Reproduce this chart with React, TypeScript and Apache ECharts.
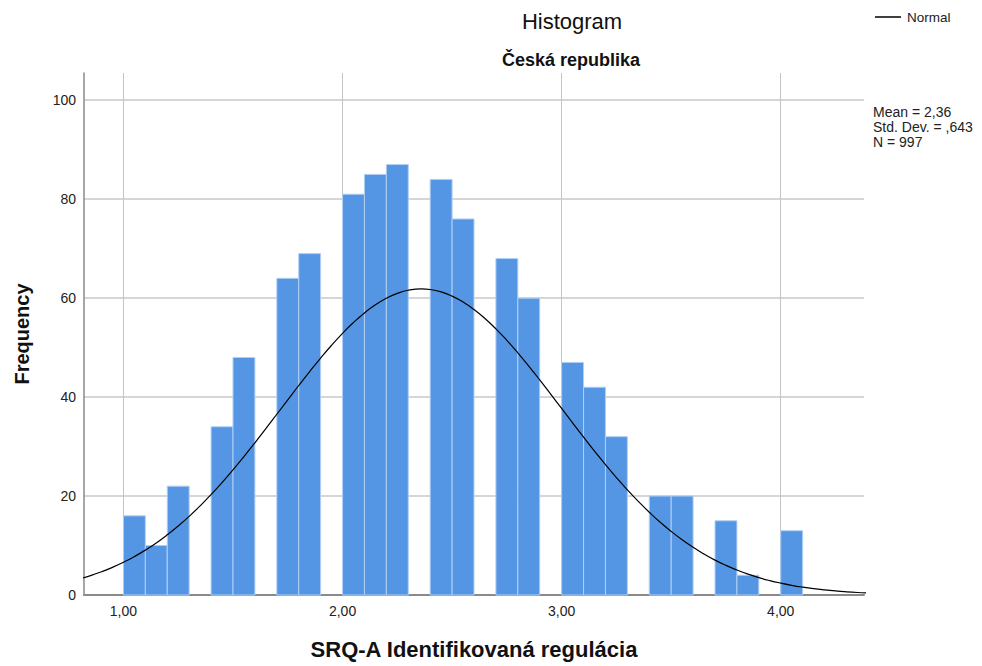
import React, { useEffect, useRef } from "react";
import * as echarts from "echarts";

// Histogram bins (lower edge, upper edge) and frequencies
const binStarts = [1.0, 1.1, 1.2, 1.3, 1.4, 1.5, 1.6, 1.7, 1.8, 1.9, 2.0, 2.1, 2.2, 2.3, 2.4, 2.5, 2.6, 2.7, 2.8, 2.9, 3.0, 3.1, 3.2, 3.3, 3.4, 3.5, 3.6, 3.7, 3.8, 3.9, 4.0];
const binEnds = [1.1, 1.2, 1.3, 1.4, 1.5, 1.6, 1.7, 1.8, 1.9, 2.0, 2.1, 2.2, 2.3, 2.4, 2.5, 2.6, 2.7, 2.8, 2.9, 3.0, 3.1, 3.2, 3.3, 3.4, 3.5, 3.6, 3.7, 3.8, 3.9, 4.0, 4.1];
const counts = [16, 10, 22, 0, 34, 48, 0, 64, 69, 0, 81, 85, 87, 0, 84, 76, 0, 68, 60, 0, 47, 42, 32, 0, 20, 20, 0, 15, 4, 0, 13];

// Normal curve points (Mean 2,36, SD ,643, N 997)
const curveX = [
  0.8, 0.85, 0.9, 0.95, 1.0, 1.05, 1.1, 1.15, 1.2, 1.25, 1.3, 1.35, 1.4, 1.45, 1.5, 1.55, 1.6, 1.65, 1.7, 1.75,
  1.8, 1.85, 1.9, 1.95, 2.0, 2.05, 2.1, 2.15, 2.2, 2.25, 2.3, 2.36, 2.4, 2.45, 2.5, 2.55, 2.6, 2.65, 2.7, 2.75,
  2.8, 2.85, 2.9, 2.95, 3.0, 3.05, 3.1, 3.15, 3.2, 3.25, 3.3, 3.35, 3.4, 3.45, 3.5, 3.55, 3.6, 3.65, 3.7, 3.75,
  3.8, 3.85, 3.9, 3.95, 4.0, 4.05, 4.1, 4.15, 4.2, 4.25, 4.3, 4.35, 4.4,
];
const curveY = [
  3.26, 3.92, 4.7, 5.59, 6.61, 7.77, 9.07, 10.53, 12.16, 13.94, 15.9, 18.01, 20.3, 22.73, 25.3, 27.98, 30.76, 33.63, 36.53, 39.44,
  42.34, 45.16, 47.89, 50.48, 52.88, 55.07, 57.0, 58.65, 59.97, 60.96, 61.59, 61.86, 61.74, 61.26, 60.41, 59.22, 57.7, 55.88, 53.79, 51.47,
  48.95, 46.27, 43.48, 40.6, 37.7, 34.78, 31.9, 29.08, 26.35, 23.74, 21.25, 18.91, 16.73, 14.7, 12.85, 11.16, 9.63, 8.27, 7.05, 5.98,
  5.04, 4.22, 3.51, 2.91, 2.4, 1.96, 1.59, 1.28, 1.03, 0.82, 0.65, 0.51, 0.4,
];

const xTicks = [1, 2, 3, 4];
const yTicks = [0, 20, 40, 60, 80, 100];
const statsLines = ["Mean = 2,36", "Std. Dev. = ,643", "N = 997"];

const FONT = "'Liberation Sans', Arial, sans-serif";

export default function App() {
  const ref = useRef<HTMLDivElement>(null);
  useEffect(() => {
    if (!ref.current) return;
    const chart = echarts.init(ref.current, undefined, { renderer: "svg" });
    const barData = binStarts.map((s, i) => [s, binEnds[i], counts[i]]);
    const lineData = curveX.map((x, i) => [x, curveY[i]]);
    chart.setOption({
      animation: false,
      backgroundColor: "#ffffff",
      textStyle: { fontFamily: FONT },
      grid: { left: 84, right: 118, top: 73, bottom: 71, containLabel: false },
      legend: {
        data: [{ name: "Normal", icon: "rect" }],
        left: 870,
        top: 5,
        itemWidth: 26,
        itemHeight: 1.5,
        itemGap: 5,
        itemStyle: { color: "#000", borderWidth: 0 },
        lineStyle: { width: 0 },
        textStyle: { fontFamily: FONT, fontSize: 13.5, color: "#222", padding: [0, 0, 0, 1] },
      },
      xAxis: {
        type: "value",
        min: 0.82,
        max: 4.38,
        name: "SRQ-A Identifikovaná regulácia",
        nameLocation: "middle",
        nameGap: 43,
        nameTextStyle: { fontFamily: FONT, fontSize: 22, fontWeight: "bold", color: "#111" },
        axisLine: { show: true, lineStyle: { color: "#8a8a8a", width: 2 } },
        axisTick: { show: false, customValues: xTicks },
        axisLabel: {
          customValues: xTicks,
          fontSize: 14,
          color: "#222",
          margin: 9,
          formatter: (v: number) => v.toFixed(2).replace(".", ","),
        },
        splitLine: { show: true, lineStyle: { color: "#c4c4c4", width: 1 } },
      },
      yAxis: {
        type: "value",
        min: 0,
        max: 105.5,
        name: "Frequency",
        nameLocation: "middle",
        nameGap: 52,
        nameTextStyle: { fontFamily: FONT, fontSize: 20, fontWeight: "bold", color: "#111" },
        axisLine: { show: true, lineStyle: { color: "#8a8a8a", width: 1.5 } },
        axisTick: { show: false, customValues: yTicks },
        axisLabel: { customValues: yTicks, fontSize: 14, color: "#222", margin: 8 },
        splitLine: { show: true, lineStyle: { color: "#c8c8c8", width: 1.5 } },
      },
      graphic: [
        {
          type: "text",
          x: 572,
          y: 21,
          style: { text: "Histogram", font: `22px ${FONT}`, fill: "#111", align: "center", verticalAlign: "middle" },
        },
        {
          type: "text",
          x: 571,
          y: 60,
          style: { text: "Česká republika", font: `bold 18px ${FONT}`, fill: "#111", align: "center", verticalAlign: "middle" },
        },
        {
          type: "text",
          x: 873,
          y: 104,
          style: { text: statsLines.join("\n"), font: `14px ${FONT}`, lineHeight: 15, fill: "#222", align: "left", verticalAlign: "top" },
        },
      ],
      series: [
        {
          type: "custom",
          name: "Frequency",
          data: barData,
          encode: { x: [0, 1], y: 2 },
          z: 2,
          renderItem: (params: any, api: any) => {
            const x0 = api.value(0);
            const x1 = api.value(1);
            const y = api.value(2);
            if (!y) return null;
            const p0 = api.coord([x0, y]);
            const p1 = api.coord([x1, 0]);
            return {
              type: "rect",
              shape: { x: p0[0], y: p0[1], width: p1[0] - p0[0], height: p1[1] - p0[1] },
              style: { fill: "#5596e4", stroke: "#b0cff3", lineWidth: 1 },
            };
          },
        },
        {
          type: "line",
          name: "Normal",
          data: lineData,
          smooth: true,
          symbol: "none",
          showSymbol: false,
          z: 4,
          color: "#000",
          lineStyle: { color: "#000", width: 1.2 },
        },
      ],
    });
    return () => chart.dispose();
  }, []);
  return <div ref={ref} style={{ position: "fixed", left: 0, top: 0, width: 982, height: 666 }} />;
}
